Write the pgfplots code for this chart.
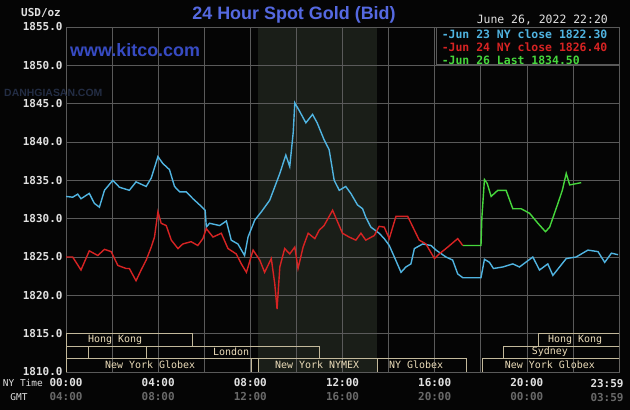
\documentclass[border=0pt]{standalone}
\usepackage{fontspec}
\setmainfont{Liberation Sans}
\newfontfamily\mono{DejaVu Sans Mono}
\usepackage{pgfplots}
\pgfplotsset{compat=1.18}

\definecolor{bg}{RGB}{5,5,5}
\definecolor{gridc}{RGB}{90,90,90}
\definecolor{shadec}{RGB}{26,30,24}
\definecolor{cyanl}{RGB}{80,180,225}
\definecolor{redl}{RGB}{215,35,35}
\definecolor{greenl}{RGB}{70,215,60}
\definecolor{titleb}{RGB}{85,105,225}
\definecolor{kitco}{RGB}{55,75,195}
\definecolor{sess}{RGB}{195,185,155}
\definecolor{sesstxt}{RGB}{235,220,185}
\definecolor{tickw}{RGB}{225,225,225}
\definecolor{tickg}{RGB}{105,105,105}

\begin{document}
\begin{tikzpicture}
\fill[bg] (0,0) rectangle (630bp,410bp);
% COMEX session shading, 08:20 - 13:30 (23.042bp per hour)
\fill[shadec] (257.9bp,38bp) rectangle (377.1bp,383bp);

\begin{axis}[
  at={(66bp,38bp)}, anchor=south west,
  width=553bp, height=345bp, scale only axis,
  xmin=0, xmax=24, ymin=1810, ymax=1855,
  axis line style={gridc},
  xtick={0,4,8,12,16,20},
  minor xtick={2,6,10,14,18,22},
  xticklabels={
    {00:00\\\textcolor{tickg}{04:00}},
    {04:00\\\textcolor{tickg}{08:00}},
    {08:00\\\textcolor{tickg}{12:00}},
    {12:00\\\textcolor{tickg}{16:00}},
    {16:00\\\textcolor{tickg}{20:00}},
    {20:00\\\textcolor{tickg}{00:00}}},
  ytick={1810,1815,1820,1825,1830,1835,1840,1845,1850,1855},
  yticklabels={1810.0,1815.0,1820.0,1825.0,1830.0,1835.0,1840.0,1845.0,1850.0,1855.0},
  major tick length=0, minor tick length=0,
  grid=both,
  grid style={gridc, line width=0.6bp},
  minor grid style={gridc, line width=0.6bp},
  xticklabel style={font=\mono\bfseries\fontsize{11}{14}\selectfont, text=tickw, align=center, inner sep=0, yshift=-6bp},
  yticklabel style={font=\mono\bfseries\fontsize{11}{13}\selectfont, text=tickw},
]

% Jun 23 NY close
\addplot[cyanl, line width=1.4bp] coordinates {
(0,1832.9)(0.29,1832.8)(0.51,1833.2)(0.65,1832.6)(1.01,1833.3)(1.23,1832.0)(1.45,1831.5)
(1.67,1833.7)(2.03,1835.0)(2.32,1834.1)(2.75,1833.7)(3.04,1834.8)(3.48,1834.2)(3.70,1835.3)
(3.99,1838.1)(4.20,1837.2)(4.49,1836.4)(4.71,1834.2)(4.93,1833.5)(5.22,1833.5)(5.51,1832.6)
(5.80,1831.8)(6.04,1831.1)(6.09,1828.9)(6.23,1829.4)(6.67,1829.1)(6.96,1829.7)(7.17,1827.2)
(7.46,1826.7)(7.75,1825.2)(7.90,1827.6)(8.19,1829.8)(8.48,1830.9)(8.84,1832.4)(9.28,1835.9)
(9.54,1838.3)(9.71,1836.8)(9.86,1841.2)(9.93,1845.1)(10.14,1844.0)(10.41,1842.5)(10.70,1843.6)
(10.90,1842.5)(11.20,1840.3)(11.42,1839.0)(11.64,1835.0)(11.86,1833.7)(12.14,1834.2)(12.36,1833.3)
(12.65,1831.8)(12.87,1831.3)(13.01,1830.2)(13.23,1828.9)(13.59,1828.1)(13.81,1827.4)(14.03,1826.5)
(14.25,1825.0)(14.54,1823.0)(14.75,1823.7)(14.97,1824.1)(15.12,1826.1)(15.48,1826.7)(15.84,1826.5)
(16.06,1825.9)(16.49,1825.0)(16.78,1824.6)(17.00,1822.8)(17.22,1822.3)(18.01,1822.3)(18.16,1824.7)
(18.38,1824.3)(18.55,1823.5)(18.96,1823.7)(19.39,1824.1)(19.68,1823.7)(20.26,1825.0)(20.55,1823.3)
(20.91,1824.1)(21.13,1822.6)(21.42,1823.7)(21.71,1824.8)(22.14,1825.0)(22.65,1825.9)(23.09,1825.7)
(23.38,1824.3)(23.67,1825.5)(23.96,1825.3)
};

% Jun 24 NY close
\addplot[redl, line width=1.4bp] coordinates {
(0,1825.0)(0.29,1825.0)(0.65,1823.3)(1.01,1825.8)(1.38,1825.2)(1.67,1826.0)(1.96,1825.7)
(2.25,1823.9)(2.61,1823.5)(2.75,1823.5)(3.04,1821.9)(3.26,1823.3)(3.48,1824.6)(3.70,1826.3)
(3.84,1827.6)(3.99,1830.9)(4.13,1829.4)(4.35,1829.1)(4.57,1827.2)(4.86,1826.1)(5.07,1826.7)
(5.43,1827.0)(5.72,1826.5)(5.94,1827.4)(6.09,1828.7)(6.38,1827.6)(6.74,1828.1)(7.03,1826.1)
(7.39,1825.4)(7.61,1824.1)(7.83,1823.0)(8.12,1825.9)(8.41,1824.6)(8.62,1823.0)(8.91,1824.8)
(9.06,1821.5)(9.16,1818.2)(9.28,1823.7)(9.49,1826.1)(9.71,1825.4)(9.93,1826.3)(10.07,1823.5)
(10.29,1826.3)(10.51,1828.1)(10.80,1827.4)(10.99,1828.5)(11.20,1829.1)(11.57,1831.1)(12.00,1828.1)
(12.29,1827.6)(12.58,1827.2)(12.80,1828.1)(13.01,1827.2)(13.38,1827.8)(13.59,1829.0)(13.81,1828.9)
(14.03,1827.4)(14.32,1830.3)(14.83,1830.3)(15.12,1828.5)(15.33,1827.2)(15.62,1826.7)(15.99,1824.8)
(16.20,1825.4)(16.57,1826.3)(17.00,1827.4)(17.22,1826.5)
};

% Jun 26 Last
\addplot[greenl, line width=1.4bp] coordinates {
(17.22,1826.5)(18.01,1826.5)(18.05,1830.2)(18.16,1835.1)(18.28,1834.6)(18.45,1832.9)(18.74,1833.7)
(19.10,1833.7)(19.39,1831.3)(19.75,1831.3)(20.12,1830.7)(20.48,1829.4)(20.81,1828.3)(20.99,1828.9)
(21.35,1832.0)(21.54,1833.7)(21.71,1835.9)(21.86,1834.4)(22.36,1834.7)
};

% legend box
\fill[bg, draw=gridc] (axis cs:16.07,1850.1) rectangle (axis cs:24,1855);
\begin{scope}[every node/.style={anchor=west, font=\mono\bfseries\fontsize{11.5}{13}\selectfont, inner sep=0}]
\node[text=cyanl]  at (axis cs:16.3,1854.0) {-Jun 23 NY close 1822.30};
\node[text=redl]   at (axis cs:16.3,1852.3) {-Jun 24 NY close 1826.40};
\node[text=greenl] at (axis cs:16.3,1850.7) {-Jun 26 Last 1834.50};
\end{scope}

% watermark
\node[font=\bfseries\fontsize{18}{20}\selectfont, text=kitco] at (axis cs:3.0,1852.0) {www.kitco.com};

% trading sessions
\begin{scope}[sess, line width=0.8bp]
\draw (axis cs:0,1813.4) rectangle (axis cs:5.5,1815);
\draw (axis cs:20.5,1813.4) rectangle (axis cs:24,1815);
\draw (axis cs:0,1811.8) rectangle (axis cs:0.96,1813.4);
\draw (axis cs:0.96,1811.8) rectangle (axis cs:3.5,1813.4);
\draw (axis cs:3.5,1811.8) rectangle (axis cs:11,1813.4);
\draw (axis cs:19,1811.8) rectangle (axis cs:24,1813.4);
\draw (axis cs:0,1810) rectangle (axis cs:8.04,1811.8);
\draw (axis cs:8.33,1810) rectangle (axis cs:13.5,1811.8);
\draw (axis cs:13.5,1810) rectangle (axis cs:17.36,1811.8);
\draw (axis cs:18.05,1810) rectangle (axis cs:24,1811.8);
\end{scope}
\begin{scope}[every node/.style={font=\mono\fontsize{10}{12}\selectfont, text=sesstxt, inner sep=0}]
\node at (axis cs:2.13,1814.2) {Hong Kong};
\node at (axis cs:22.1,1814.2) {Hong Kong};
\node at (axis cs:7.17,1812.6) {London};
\node at (axis cs:21.0,1812.6) {Sydney};
\node at (axis cs:3.65,1810.9) {New York Globex};
\node at (axis cs:10.9,1810.9) {New York NYMEX};
\node at (axis cs:15.2,1810.9) {NY Globex};
\node at (axis cs:21.0,1810.9) {New York Globex};
\end{scope}

\end{axis}

% page texts
\node[font=\bfseries\fontsize{18}{20}\selectfont, text=titleb] at (294bp,395bp) {24 Hour Spot Gold (Bid)};
\node[font=\mono\fontsize{11.5}{13}\selectfont, text=tickw, anchor=east, inner sep=0] at (608bp,390bp) {June 26, 2022 22:20};
\node[font=\mono\bfseries\fontsize{11}{13}\selectfont, text=tickw, anchor=east, inner sep=0] at (61bp,397bp) {USD/oz};
\node[font=\bfseries\fontsize{10.5}{12}\selectfont, text={rgb,255:red,35;green,45;blue,68}, anchor=west, inner sep=0] at (4bp,317bp) {DANHGIASAN.COM};
\node[font=\mono\fontsize{9.5}{12}\selectfont, text=tickw, anchor=east, inner sep=0] at (43bp,27bp) {NY Time};
\node[font=\mono\fontsize{9.5}{12}\selectfont, text=tickw, inner sep=0] at (19bp,13bp) {GMT};
\node[font=\mono\bfseries\fontsize{11}{14}\selectfont, text=tickw, align=center, inner sep=0] at (607bp,19bp) {23:59\\\textcolor{tickg}{03:59}};
\end{tikzpicture}
\end{document}
